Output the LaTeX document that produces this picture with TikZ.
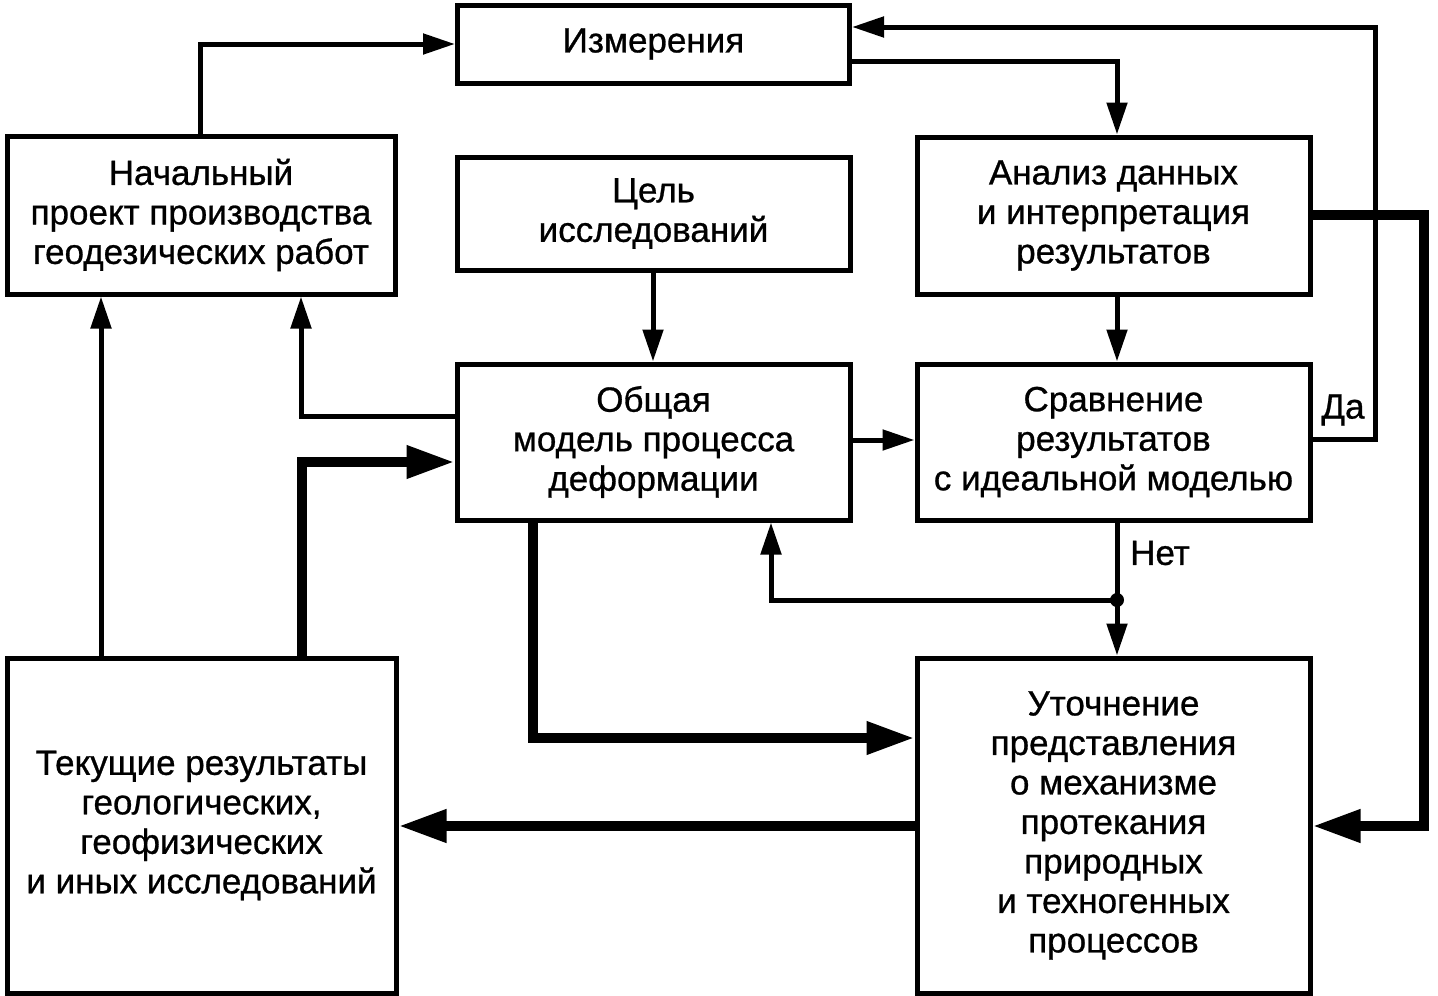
\documentclass[tikz,border=0pt]{standalone}
\usepackage{fontspec}
\setmainfont{Liberation Sans}
\newfontfamily\diagfont[FakeBold=0.8]{Liberation Sans}
\usetikzlibrary{arrows.meta}
\begin{document}
\begin{tikzpicture}[x=1pt,y=-1pt,
  box/.style={draw,line width=5pt,inner sep=0pt,align=center,
    font=\diagfont\fontsize{35}{39.5}\selectfont},
  lbl/.style={inner sep=0pt,font=\diagfont\fontsize{35}{39.5}\selectfont},
  thin/.style={line width=5pt,-{Triangle[length=32pt,width=20pt]}},
  thick/.style={line width=10pt,-{Triangle[length=48pt,width=31pt]}},
  plain/.style={line width=5pt}]
\useasboundingbox (0,0) rectangle (1438,996);
% boxes (center-line geometry)
\node[box,minimum width=392pt,minimum height=78pt] (izm) at (653.5,44) {Измерения};
\node[box,minimum width=388pt,minimum height=158pt] (nach) at (201,215) {Начальный\\проект производства\\геодезических работ};
\node[box,minimum width=393pt,minimum height=113pt] (cel) at (653.5,213.5) {Цель\\исследований};
\node[box,minimum width=393pt,minimum height=157pt] (anal) at (1113.5,215.5) {Анализ данных\\и интерпретация\\результатов};
\node[box,minimum width=393pt,minimum height=156pt] (obsh) at (653.5,442) {Общая\\модель процесса\\деформации};
\node[box,minimum width=393pt,minimum height=156pt] (srav) at (1113.5,442) {Сравнение\\результатов\\с идеальной моделью};
\node[box,minimum width=389pt,minimum height=335pt] (tek) at (201.5,825.5) {Текущие результаты\\геологических,\\геофизических\\и иных исследований};
\node[box,minimum width=393pt,minimum height=335pt] (utoch) at (1113.5,825.5) {Уточнение\\представления\\о механизме\\протекания\\природных\\и техногенных\\процессов};
% labels
\node[lbl] (da) at (1343,410) {Да};
\node[lbl] (net) at (1160,553) {Нет};
% junction
\coordinate (j) at (1117,600);
\fill (j) circle (7pt);
% connectors
\draw[thin] (nach.north -| 200,0) |- (izm.west |- 0,44);
\draw[thin] (izm.east |- 0,61) -| (anal.north -| 1117,0);
\draw[thin] (srav.east |- 0,439) -| (1375,27) -- (izm.east |- 0,27);
\draw[thick] (anal.east |- 0,215) -| (1424,826) -- (utoch.east |- 0,826);
\draw[thin] (anal.south -| 1117,0) -- (srav.north -| 1117,0);
\draw[thin] (cel.south -| 653,0) -- (obsh.north -| 653,0);
\draw[thin] (obsh.east |- 0,440) -- (srav.west |- 0,440);
\draw[thin] (obsh.west |- 0,416) -| (nach.south -| 301,0);
\draw[thin] (tek.north -| 101,0) -- (nach.south -| 101,0);
\draw[thick] (tek.north -| 302,0) |- (obsh.west |- 0,462);
\draw[thick] (obsh.south -| 533,0) |- (utoch.west |- 0,738);
\draw[plain] (srav.south -| 1117,0) -- (j);
\draw[thin] (j) -- (utoch.north -| 1117,0);
\draw[thin] (j) -| (obsh.south -| 771,0);
\draw[thick] (utoch.west |- 0,826) -- (tek.east |- 0,826);
\end{tikzpicture}
\end{document}
